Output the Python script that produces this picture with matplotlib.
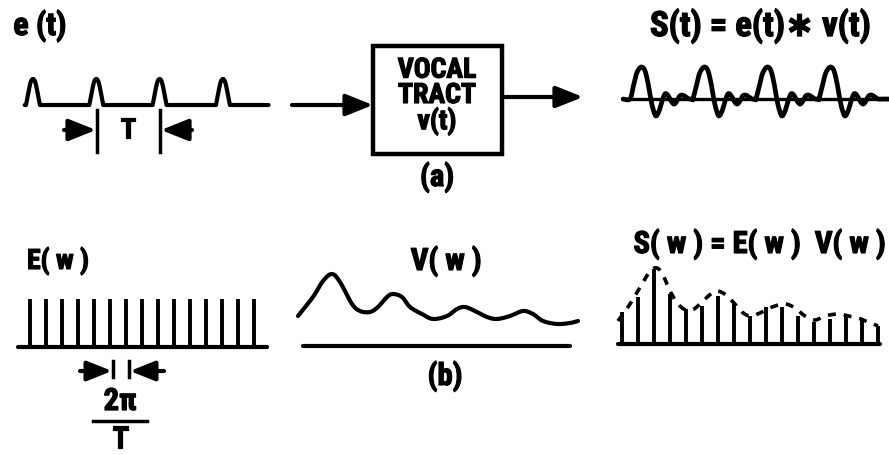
import matplotlib.pyplot as plt
import matplotlib.patheffects as pe
import numpy as np

W, H, DPI = 889, 456, 100

# ---------------- data ----------------
# e(t): glottal pulse train, time in periods T
et_pulses = [0, 1, 2, 3]
pulse_dt = [-0.11, -0.075, -0.04, -0.015, 0, 0.015, 0.04, 0.075, 0.11]
pulse_amp = [0, 0.45, 0.85, 0.98, 1, 0.98, 0.85, 0.45, 0]

# s(t): one period of the output waveform, relative to its main peak
st_peaks = [0, 1, 2, 3]
st_dt = [-0.19, -0.14, -0.095, -0.048, 0, 0.048, 0.095, 0.14, 0.175, 0.22,
         0.27, 0.32, 0.365, 0.41, 0.46, 0.51, 0.555, 0.6, 0.65, 0.7, 0.75, 0.81]
st_val = [0, 0.38, 0.75, 0.94, 1.0, 0.88, 0.5, 0, -0.31, -0.53,
          -0.38, -0.06, 0.16, 0.12, -0.06, -0.16, -0.06, 0.1, 0.12, 0.06, 0, 0]

# E(w): flat line spectrum
ew_harm = list(range(15))
ew_amp = [1] * 15

# V(w): vocal tract envelope (frequency in arbitrary units)
vw_freq = [0, 1.5, 2.5, 3.4, 4.2, 5.4, 6.2, 7.2, 8.0, 8.9, 9.5, 10.4, 11.2, 12.4,
           13.5, 14.9, 15.9, 16.7, 17.7, 18.9, 19.9, 21.2, 22.5, 23.5, 24.5,
           25.9, 27.2, 28.0]
vw_mag = [3.0, 4.9, 6.5, 7.2, 6.4, 4.2, 3.5, 3.4, 3.9, 4.9, 5.2, 4.9, 3.9, 3.2,
          2.7, 3.0, 3.7, 3.9, 3.5, 2.9, 2.7, 3.0, 3.5, 3.2, 2.5, 2.2, 2.3, 2.5]

# S(w): harmonics and their dashed envelope
sw_harm = list(range(17))
sw_amp = [3.2, 4.7, 7.5, 5.0, 3.5, 3.8, 4.8, 4.0, 2.8, 3.7, 3.7, 2.8, 2.2, 2.5,
          2.8, 2.5, 1.8]
sw_env_k = [-0.25, 0.5, 1.25, 1.75, 2.19, 2.56, 3.0, 3.5, 4.0, 4.5, 5.06, 5.63,
            6.0, 6.5, 7.0, 7.5, 8.0, 8.63, 9.38, 10.19, 10.81, 11.44, 12.06,
            12.69, 13.5, 14.13, 14.75, 15.38, 16.0]
sw_env = [2.3, 4.0, 6.0, 7.3, 7.6, 6.9, 5.3, 4.0, 3.4, 3.5, 4.3, 5.1, 5.3, 4.9,
          4.1, 3.2, 2.8, 3.1, 3.7, 4.0, 3.6, 2.8, 2.4, 2.8, 3.0, 2.8, 2.6, 2.2, 1.8]

# ---------------- style ----------------
plt.rcParams["font.family"] = ["Roboto Condensed", "Liberation Sans Narrow",
                               "DejaVu Sans"]
plt.rcParams["font.weight"] = "bold"
INK = "black"
LW = 3.0
HEAVY = [pe.withStroke(linewidth=0.9, foreground=INK)]


def smooth(x, y, n=10):
    # Catmull-Rom through the given points
    x = np.asarray(x, float)
    y = np.asarray(y, float)
    px = np.r_[x[0], x, x[-1]]
    py = np.r_[y[0], y, y[-1]]
    t = np.linspace(0, 1, n, endpoint=False)
    xs, ys = [], []
    for i in range(1, len(px) - 2):
        for p, out in ((px, xs), (py, ys)):
            p0, p1, p2, p3 = p[i - 1], p[i], p[i + 1], p[i + 2]
            out.append(0.5 * (2 * p1 + (-p0 + p2) * t
                              + (2 * p0 - 5 * p1 + 4 * p2 - p3) * t ** 2
                              + (-p0 + 3 * p1 - 3 * p2 + p3) * t ** 3))
    xs.append([x[-1]])
    ys.append([y[-1]])
    return np.concatenate(xs), np.concatenate(ys)


fig = plt.figure(figsize=(W / DPI, H / DPI), dpi=DPI)
fig.patch.set_facecolor("white")

bg = fig.add_axes([0, 0, 1, 1])
bg.set_xlim(0, W)
bg.set_ylim(H, 0)
bg.axis("off")


def px_axes(xlim, ylim, left, right, top, bottom):
    ax = fig.add_axes([left / W, 1 - bottom / H, (right - left) / W,
                       (bottom - top) / H])
    ax.set_xlim(xlim)
    ax.set_ylim(ylim)
    ax.axis("off")
    return ax


def arrow(x0, y0, x1, y1, lw=3, scale=22):
    bg.annotate("", xy=(x1, y1), xytext=(x0, y0),
                arrowprops=dict(arrowstyle="-|>,head_length=0.75,head_width=0.3",
                                lw=lw, color=INK, shrinkA=0, shrinkB=0,
                                mutation_scale=scale))


def label(x, y, s, size=20, **kw):
    bg.text(x, y, s, ha="center", va="center", fontsize=size,
            fontweight="bold", color=INK, path_effects=HEAVY, **kw)


# ---------------- (a) e(t) ----------------
ax = px_axes((-0.2, 3.9), (-0.2, 1.2), 20.3, 279.9, 74.8, 111.2)
ex, ey = [np.array([-0.13])], [np.array([0.0])]
for p in et_pulses:
    sx, sy = smooth([p + d for d in pulse_dt], pulse_amp, 8)
    ex.append(sx)
    ey.append(sy)
ex.append(np.array([3.72]))
ey.append(np.array([0.0]))
ax.plot(np.concatenate(ex), np.concatenate(ey), color=INK, lw=LW,
        solid_capstyle="round", solid_joinstyle="round", clip_on=False)

label(40, 27, "e (t)", 23)
bg.plot([97, 97], [111, 153], color=INK, lw=2.5)
bg.plot([160, 160], [111, 153], color=INK, lw=2.5)
arrow(64, 131, 96, 131)
arrow(192, 131, 161, 131)
label(128, 131, "T", 20)

# ---------------- vocal tract box ----------------
arrow(292, 106, 373, 106)
bg.add_patch(plt.Rectangle((373, 47), 129, 108, fill=False, lw=3.2,
                           edgecolor=INK))
label(437, 97, "VOCAL\nTRACT\nv(t)", 20, linespacing=0.92)
arrow(502, 98, 583, 98)
label(437, 178, "(a)", 22)

# ---------------- s(t) ----------------
ax = px_axes((-0.35, 3.95), (-0.7, 1.2), 619.95, 890.85, 61.6, 122.4)
ax.plot([-0.3, 3.95], [0, 0], color=INK, lw=2.4, clip_on=False)
wx, wy = [-0.3], [0]
for p in st_peaks:
    wx += [p + d for d in st_dt]
    wy += st_val
wx.append(3.93)
wy.append(0)
sx, sy = smooth(wx, wy, 8)
ax.plot(sx, sy, color=INK, lw=3.4, solid_capstyle="round", clip_on=False)
label(760, 27, "S(t) = e(t)\u2217 v(t)", 25)

# ---------------- (b) E(w) ----------------
ax = px_axes((-1, 15), (-0.1, 1.1), 14, 270, 295.2, 352.8)
ax.plot([-0.75, 14.8], [0, 0], color=INK, lw=LW, solid_capstyle="round",
        clip_on=False)
ax.vlines(ew_harm, 0, ew_amp, color=INK, lw=2.8, clip_on=False)
label(58, 262, "E( w )", 20)

bg.plot([113, 113], [362, 378], color=INK, lw=2.5)
bg.plot([129, 129], [362, 378], color=INK, lw=2.5)
arrow(80, 372, 112, 372, scale=20)
arrow(164, 372, 130, 372, scale=20)
label(120, 402, "2\u03c0", 22)
bg.plot([93, 147], [422, 422], color=INK, lw=2.5)
label(120, 440, "T", 22)

# ---------------- V(w) ----------------
ax = px_axes((-0.5, 28.5), (-0.5, 8), 293, 583, 267, 352)
sx, sy = smooth(vw_freq, vw_mag, 8)
ax.plot(sx, sy, color=INK, lw=LW, solid_capstyle="round", clip_on=False)
ax.plot([0.5, 27.2], [0, 0], color=INK, lw=LW, solid_capstyle="round",
        clip_on=False)
label(446, 262, "V( w )", 22)
label(445, 377, "(b)", 22)

# ---------------- S(w) ----------------
ax = px_axes((-0.5, 16.5), (-0.3, 8.5), 614, 886, 260, 348)
ax.plot([-0.25, 16.1], [0, 0], color=INK, lw=LW, solid_capstyle="round",
        clip_on=False)
ax.vlines(sw_harm, 0, sw_amp, color=INK, lw=2.8, clip_on=False)
sx, sy = smooth(sw_env_k, sw_env, 8)
ax.plot(sx, sy, color=INK, lw=2.6, ls=(0, (2.2, 2.2)), clip_on=False)
label(759, 245, "S( w ) = E( w )  V( w )", 22)

fig.savefig("out.png", dpi=DPI, facecolor="white")
